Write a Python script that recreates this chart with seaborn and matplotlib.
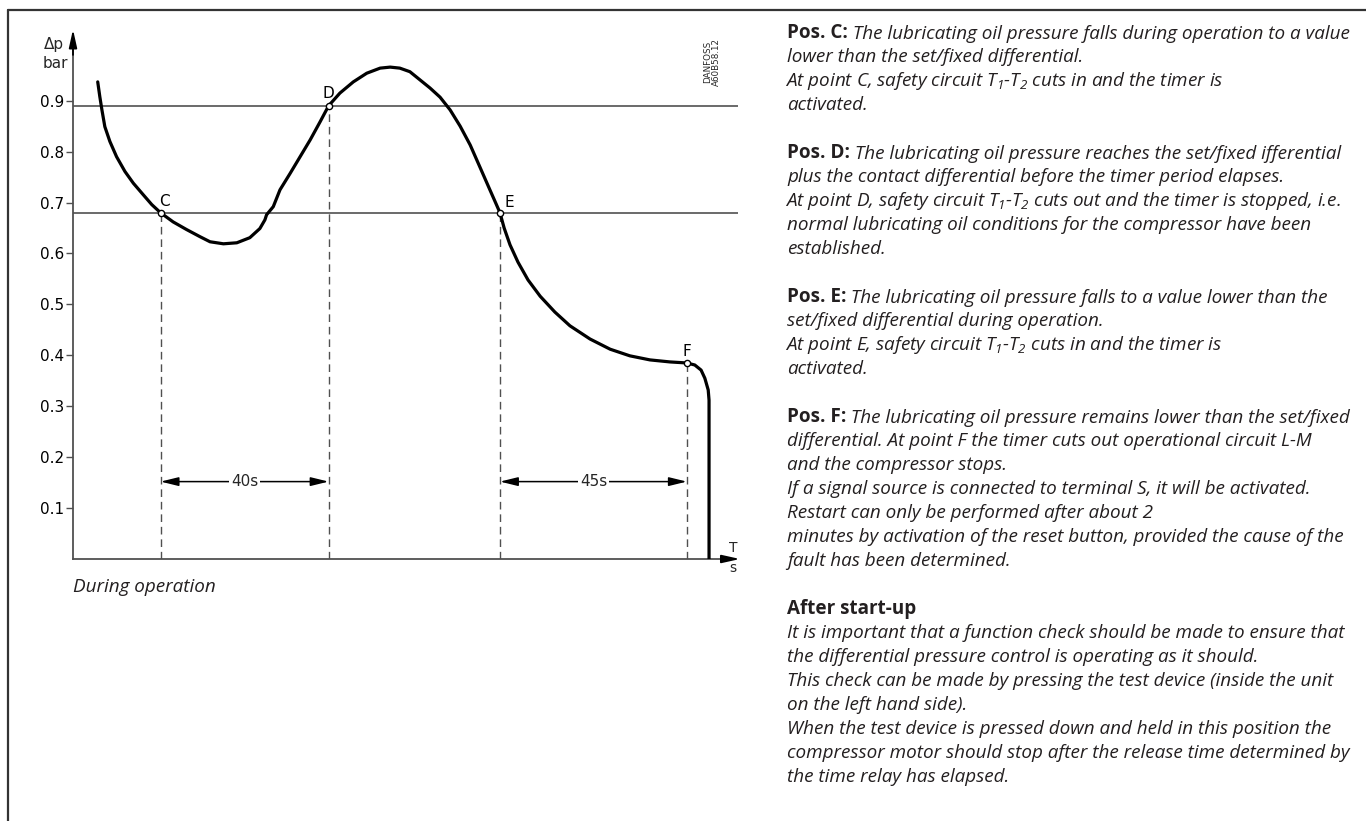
import matplotlib
matplotlib.use("Agg")
import matplotlib.pyplot as plt
from matplotlib.lines import Line2D
import pandas as pd
import seaborn as sns

# pressure curve: time (s) vs differential pressure (bar)
t_curve = [5.9, 6.4, 6.9, 7.6, 8.8, 10.4, 12.4, 14.4, 16.8, 18.8, 20.9,
           23.9, 27.1, 30.3, 32.7, 35.9, 39.1, 42.2, 44.6, 45.8, 46.2,
           47.8, 49.4, 51.8, 54.2, 56.6, 59.0, 61.0,
           63.7, 66.9, 70.1, 73.3, 75.7, 78.0, 80.4, 82.8, 85.2, 87.6, 90.0,
           92.4, 94.8, 97.1, 99.5, 101.0, 101.9,
           102.9, 104.3, 106.2, 108.6, 111.5, 115.0, 118.6, 123.4, 128.2,
           132.9, 137.7, 142.5, 146.5, 148.4, 149.9, 150.8, 151.6, 151.8, 151.8]
p_curve = [0.937, 0.908, 0.882, 0.849, 0.820, 0.790, 0.761, 0.738, 0.715, 0.696, 0.680,
           0.662, 0.647, 0.633, 0.623, 0.619, 0.621, 0.631, 0.649, 0.666, 0.676,
           0.692, 0.725, 0.757, 0.790, 0.823, 0.859, 0.890,
           0.915, 0.937, 0.954, 0.964, 0.966, 0.964, 0.957, 0.941, 0.925, 0.907, 0.882,
           0.850, 0.813, 0.770, 0.725, 0.697, 0.680,
           0.650, 0.617, 0.583, 0.548, 0.516, 0.485, 0.458, 0.432, 0.412,
           0.399, 0.391, 0.387, 0.385, 0.381, 0.371, 0.355, 0.332, 0.312, 0.0]

# switching points
point_names = ["C", "D", "E", "F"]
point_t = [20.9, 61.0, 101.9, 146.5]
point_p = [0.68, 0.89, 0.68, 0.385]

thresholds = [0.89, 0.68]
interval_labels = ["40s", "45s"]
interval_start = [20.9, 101.9]
interval_end = [61.0, 146.5]
interval_level = 0.152

y_ticks = [0.1, 0.2, 0.3, 0.4, 0.5, 0.6, 0.7, 0.8, 0.9]

panel_lines = [
    ("Pos. C:", " The lubricating oil pressure falls during operation to a value"),
    ("", "lower than the set/fixed differential."),
    ("", "At point C, safety circuit $T_1$-$T_2$ cuts in and the timer is"),
    ("", "activated."),
    ("", ""),
    ("Pos. D:", " The lubricating oil pressure reaches the set/fixed ifferential"),
    ("", "plus the contact differential before the timer period elapses."),
    ("", "At point D, safety circuit $T_1$-$T_2$ cuts out and the timer is stopped, i.e."),
    ("", "normal lubricating oil conditions for the compressor have been"),
    ("", "established."),
    ("", ""),
    ("Pos. E:", " The lubricating oil pressure falls to a value lower than the"),
    ("", "set/fixed differential during operation."),
    ("", "At point E, safety circuit $T_1$-$T_2$ cuts in and the timer is"),
    ("", "activated."),
    ("", ""),
    ("Pos. F:", " The lubricating oil pressure remains lower than the set/fixed"),
    ("", "differential. At point F the timer cuts out operational circuit L-M"),
    ("", "and the compressor stops."),
    ("", "If a signal source is connected to terminal S, it will be activated."),
    ("", "Restart can only be performed after about 2"),
    ("", "minutes by activation of the reset button, provided the cause of the"),
    ("", "fault has been determined."),
    ("", ""),
    ("After start-up", ""),
    ("", "It is important that a function check should be made to ensure that"),
    ("", "the differential pressure control is operating as it should."),
    ("", "This check can be made by pressing the test device (inside the unit"),
    ("", "on the left hand side)."),
    ("", "When the test device is pressed down and held in this position the"),
    ("", "compressor motor should stop after the release time determined by"),
    ("", "the time relay has elapsed."),
]

sns.set_theme(style="white")
plt.rcParams["font.family"] = ["DejaVu Sans"]
plt.rcParams["mathtext.fontset"] = "custom"
plt.rcParams["mathtext.it"] = "Open Sans:italic"
plt.rcParams["mathtext.rm"] = "Open Sans:italic"
plt.rcParams["mathtext.bf"] = "Open Sans:bold"

W, H = 1366, 821
fig = plt.figure(figsize=(W / 100, H / 100), dpi=100)

# axes placement (pixels): y-axis at x=73, baseline at y=559
px_per_s = 4.19
px_per_bar = 509.2
xmax, ymax = 162, 1.06
ax = fig.add_axes([73 / W, (H - 559) / H, xmax * px_per_s / W, ymax * px_per_bar / H])
ax.set_xlim(0, xmax)
ax.set_ylim(0, ymax)

axis_col = "#505050"
ax.hlines(thresholds, 0, 158.7, color=axis_col, lw=1.2, zorder=1)
ax.vlines(point_t, 0, point_p, color=axis_col, lw=1.0, linestyles=(0, (5.5, 3.5)), zorder=1)

curve = pd.DataFrame({"t": t_curve, "p": p_curve})
sns.lineplot(data=curve, x="t", y="p", sort=False, estimator=None, color="black",
             lw=2.3, ax=ax, zorder=3)

pts = pd.DataFrame({"t": point_t, "p": point_p, "name": point_names})
sns.scatterplot(data=pts, x="t", y="p", marker="o", s=20, facecolor="white",
                edgecolor="black", linewidth=1.0, ax=ax, zorder=4)

label_off = {"C": (4, 11), "D": (0, 12), "E": (9, 10), "F": (0, 11)}
for name, t, p in zip(point_names, point_t, point_p):
    ax.annotate(name, (t, p), xytext=label_off[name], textcoords="offset pixels",
                ha="center", va="center", fontsize=11, color="black")

for lab, a, b in zip(interval_labels, interval_start, interval_end):
    ax.annotate("", xy=(b, interval_level), xytext=(a, interval_level),
                arrowprops=dict(arrowstyle="<|-|>,head_length=0.9,head_width=0.22",
                                color="black", lw=1.1, shrinkA=0, shrinkB=0,
                                mutation_scale=12))
    ax.text((a + b) / 2, interval_level, lab, ha="center", va="center", fontsize=11,
            bbox=dict(facecolor="white", edgecolor="none", pad=1.5), zorder=5)

# axes with arrow heads
sns.despine(ax=ax)
for side in ["left", "bottom"]:
    ax.spines[side].set_color(axis_col)
    ax.spines[side].set_linewidth(1.3)
ax.spines["left"].set_bounds(0, 1.0)
ax.spines["bottom"].set_bounds(0, 156)
ax.annotate("", xy=(0, 1.04), xytext=(0, 0.99),
            arrowprops=dict(arrowstyle="-|>,head_length=0.9,head_width=0.2",
                            color="black", lw=1.3, shrinkA=0, shrinkB=0, mutation_scale=12))
ax.annotate("", xy=(159.2, 0), xytext=(155, 0),
            arrowprops=dict(arrowstyle="-|>,head_length=0.9,head_width=0.2",
                            color="black", lw=1.3, shrinkA=0, shrinkB=0, mutation_scale=12))

ax.set_xticks([])
ax.set_yticks(y_ticks)
ax.set_yticklabels([f"{v:.1f}" for v in y_ticks])
ax.tick_params(axis="y", direction="out", length=5, width=1.0, color=axis_col,
               pad=1.5, labelsize=11, labelcolor="black", left=True)
ax.set_xlabel("")
ax.set_ylabel("")

fig.text(64 / W, 1 - 44 / H, "Δp", ha="right", va="center", fontsize=11)
fig.text(68 / W, 1 - 63 / H, "bar", ha="right", va="center", fontsize=11)
ax.annotate("T", (157.5, 0), xytext=(0, 11), textcoords="offset pixels",
            ha="center", va="center", fontsize=10)
ax.annotate("s", (157.5, 0), xytext=(0, -9), textcoords="offset pixels",
            ha="center", va="center", fontsize=10)
fig.text(712 / W, 1 - 62 / H, "DANFOSS\nA60B58.12", rotation=90, ha="center",
         va="center", fontsize=6.3, linespacing=1.0)

# frame lines
frame_col = "#333333"
fig.add_artist(Line2D([8 / W, 8 / W], [1 - 10 / H, 0], color=frame_col, lw=1.6))
fig.add_artist(Line2D([8 / W, 1], [1 - 10 / H, 1 - 10 / H], color=frame_col, lw=1.6))

txt_col = "#231f20"
fs = 13.6
sans = ["Open Sans", "DejaVu Sans"]
fig.text(73 / W, 1 - 587 / H, "During operation", family=sans,
         style="italic", fontsize=fs, va="center", color=txt_col)

# text panel
x0 = 787
base0, step = 38, 24.0
for i, (bold, ital) in enumerate(panel_lines):
    y = 1 - (base0 + i * step) / H
    if bold:
        head = fig.text(x0 / W, y, bold, family=sans, weight="bold",
                        fontsize=fs, va="baseline", color=txt_col)
        if ital:
            plt.annotate(ital, xy=(1, 0), xycoords=head, va="bottom", ha="left",
                         family=sans, style="italic", fontsize=fs, color=txt_col,
                         annotation_clip=False)
    elif ital:
        # mathtext lines get a small left inset, pull them back in line
        dx = -2 if "$" in ital else 0
        fig.text((x0 + dx) / W, y, ital, family=sans, style="italic",
                 fontsize=fs, va="baseline", color=txt_col)

fig.savefig("out.png", dpi=100, facecolor="white")
